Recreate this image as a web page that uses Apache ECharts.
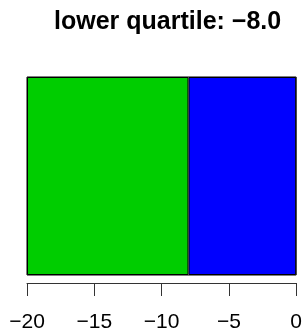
<!DOCTYPE html>
<html>
<head>
<meta charset="utf-8">
<script src="https://cdn.jsdelivr.net/npm/echarts@6/dist/echarts.min.js"></script>
<style>
  html, body { margin: 0; padding: 0; background: #fff; }
  #chart { width: 305px; height: 336px; }
</style>
</head>
<body>
<div id="chart"></div>
<script>
// range of the variable and its lower quartile
var rangeMin = -20;
var rangeMax = 0;
var lowerQuartile = -8.0;
var tickStep = 5;

var chart = echarts.init(document.getElementById("chart"));

function minus(v) {
  return String(v).replace("-", "\u2212");
}

var option = {
  animation: false,
  title: {
    text: "lower quartile: " + minus(lowerQuartile.toFixed(1)),
    left: 49,
    top: 5,
    textStyle: {
      fontFamily: "Liberation Sans",
      fontWeight: "bold",
      fontSize: 25,
      color: "#000"
    }
  },
  grid: {
    left: 27,
    right: 8,
    top: 77,
    bottom: 61,
    show: true,
    borderColor: "#000",
    borderWidth: 1,
    backgroundColor: "transparent"
  },
  xAxis: {
    type: "value",
    min: rangeMin,
    max: rangeMax,
    interval: tickStep,
    offset: 8,
    splitLine: { show: false },
    axisLine: { show: true, lineStyle: { color: "#333", width: 1 } },
    axisTick: { show: true, length: 13, lineStyle: { color: "#333", width: 1 } },
    axisLabel: {
      margin: 29,
      fontFamily: "Liberation Sans",
      fontSize: 21,
      color: "#000",
      formatter: function (v) { return minus(v); }
    }
  },
  yAxis: {
    type: "category",
    data: [""],
    show: false
  },
  series: [
    {
      // from 0 down to the lower quartile
      type: "bar",
      stack: "q",
      barWidth: "100%",
      data: [lowerQuartile - rangeMax],
      itemStyle: { color: "#0000FF", borderColor: "#000", borderWidth: 1 }
    },
    {
      // from the lower quartile down to the minimum
      type: "bar",
      stack: "q",
      barWidth: "100%",
      data: [rangeMin - lowerQuartile],
      itemStyle: { color: "#00CD00", borderColor: "#000", borderWidth: 1 }
    }
  ]
};

chart.setOption(option);
</script>
</body>
</html>
